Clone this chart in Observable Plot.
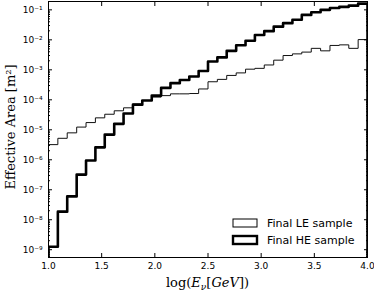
<!DOCTYPE html>
<html><head><meta charset="utf-8">
<script src="https://cdn.jsdelivr.net/npm/d3@7"></script>
<script src="https://cdn.jsdelivr.net/npm/@observablehq/plot@0.6"></script>
<style>body{margin:0;background:#fff;} #chart svg{display:block;}</style>
</head><body><div id="chart"></div>
<script>
// bin edges of log10(E/GeV)
const binEdges = [1.000,1.088,1.176,1.265,1.353,1.441,1.529,1.618,1.706,1.794,1.882,1.971,2.059,2.147,2.235,2.324,2.412,2.500,2.588,2.676,2.765,2.853,2.941,3.029,3.118,3.206,3.294,3.382,3.471,3.559,3.647,3.735,3.824,3.912,4.000];
// effective area [m^2] per bin, Final LE sample
const leValues = [3.2e-6,5.2e-6,7.9e-6,1.23e-5,1.74e-5,2.5e-5,3.3e-5,4.3e-5,5.4e-5,7.2e-5,9.5e-5,1.23e-4,1.38e-4,1.58e-4,1.58e-4,1.62e-4,2.3e-4,4.0e-4,4.8e-4,6.5e-4,7.9e-4,1.05e-3,1.12e-3,1.45e-3,2.1e-3,3.0e-3,3.4e-3,3.9e-3,5.2e-3,4.3e-3,6.5e-3,6.8e-3,5.2e-3,1.02e-2];
// effective area [m^2] per bin, Final HE sample
const heValues = [1.26e-9,1.86e-8,6.0e-8,3.2e-7,9.5e-7,2.6e-6,6.9e-6,1.58e-5,3.5e-5,6.9e-5,9.5e-5,1.38e-4,2.5e-4,3.6e-4,4.6e-4,6.0e-4,9.1e-4,1.9e-3,2.6e-3,4.3e-3,6.6e-3,9.3e-3,1.45e-2,1.95e-2,2.75e-2,3.6e-2,4.7e-2,6.8e-2,8.3e-2,0.100,0.115,0.126,0.138,0.162];
const xTicks = [1.0,1.5,2.0,2.5,3.0,3.5,4.0];
const yTicks = [1e-9,1e-8,1e-7,1e-6,1e-5,1e-4,1e-3,1e-2,1e-1];
const yTickLabels = ["10⁻⁹","10⁻⁸","10⁻⁷","10⁻⁶","10⁻⁵","10⁻⁴","10⁻³","10⁻²","10⁻¹"];
const seriesNames = ["Final LE sample","Final HE sample"];
const yDomain = [5.5e-10, 0.19];
const xDomain = [1, 4];

function stepPoints(vals) {
  const last = binEdges[binEdges.length - 1];
  const pts = [{x: binEdges[0], y: yDomain[0]}];
  vals.forEach((v, i) => pts.push({x: binEdges[i], y: v}));
  pts.push({x: last, y: vals[vals.length - 1]});
  pts.push({x: last, y: yDomain[0]});
  return pts;
}
const lePts = stepPoints(leValues);
const hePts = stepPoints(heValues);

const minorTicks = [];
for (let e = -10; e <= -1; e++) for (let m = 2; m <= 9; m++) {
  const v = m * Math.pow(10, e);
  if (v >= yDomain[0] && v <= yDomain[1]) minorTicks.push(v);
}
const blank = () => "";
const yFmt = d => yTickLabels[yTicks.indexOf(d)];

const plot = Plot.plot({
  width: 374, height: 291,
  marginLeft: 48, marginRight: 7, marginTop: 1, marginBottom: 34,
  style: {fontFamily: "DejaVu Sans", fontSize: "9px", color: "#000", background: "#fff", overflow: "visible"},
  x: {domain: xDomain},
  y: {type: "log", domain: yDomain},
  marks: [
    Plot.line(lePts, {x: "x", y: "y", curve: "step-after", stroke: "#111", strokeWidth: 1, clip: true}),
    Plot.line(hePts, {x: "x", y: "y", curve: "step-after", stroke: "#000", strokeWidth: 2.6, clip: true}),
    Plot.frame({stroke: "#000", strokeWidth: 1}),
    Plot.axisX(xTicks, {anchor: "bottom", tickSize: 0, tickPadding: 5, tickFormat: d => d.toFixed(1), label: null}),
    Plot.axisX(xTicks, {anchor: "bottom", tickSize: 4, dy: -4, tickFormat: blank, label: null}),
    Plot.axisX(xTicks, {anchor: "top", tickSize: 4, dy: 4, tickFormat: blank, label: null}),
    Plot.axisY(yTicks, {anchor: "left", tickSize: 0, tickPadding: 6, tickFormat: yFmt, label: null}),
    Plot.axisY(yTicks, {anchor: "left", tickSize: 4, dx: 4, tickFormat: blank, label: null}),
    Plot.axisY(yTicks, {anchor: "right", tickSize: 4, dx: -4, tickFormat: blank, label: null}),
    Plot.axisY(minorTicks, {anchor: "left", tickSize: 2, dx: 2, tickFormat: blank, label: null}),
    Plot.axisY(minorTicks, {anchor: "right", tickSize: 2, dx: -2, tickFormat: blank, label: null})
  ]
});
document.getElementById("chart").append(plot);

const svg = d3.select(plot);
const xs = plot.scale("x"), ys = plot.scale("y");
const cx = (xs.range[0] + xs.range[1]) / 2;
const cy = (ys.range[0] + ys.range[1]) / 2;

// x label
const xl = svg.append("text").attr("x", cx).attr("y", 287).attr("text-anchor", "middle")
  .attr("font-family", "DejaVu Serif").attr("font-size", 13).attr("fill", "#000");
xl.append("tspan").text("log(");
xl.append("tspan").attr("font-style", "italic").text("E");
xl.append("tspan").attr("font-style", "italic").attr("font-size", 9).attr("dy", 3).text("ν");
xl.append("tspan").attr("dy", -3).text("[");
xl.append("tspan").attr("font-style", "italic").text("GeV");
xl.append("tspan").text("])");

// y label
svg.append("text").attr("transform", `translate(15,${cy - 2}) rotate(-90)`).attr("text-anchor", "middle")
  .attr("font-family", "DejaVu Serif").attr("font-size", 13).attr("fill", "#000")
  .text("Effective Area [m²]");

// legend
const lg = svg.append("g");
[[seriesNames[0], 1], [seriesNames[1], 2.4]].forEach(([name, sw], i) => {
  const y0 = 219 + i * 17;
  lg.append("rect").attr("x", 233).attr("y", y0).attr("width", 24).attr("height", 8)
    .attr("fill", "none").attr("stroke", "#000").attr("stroke-width", sw);
  lg.append("text").attr("x", 267).attr("y", y0 + 8.3).attr("text-anchor", "start")
    .attr("font-family", "DejaVu Sans").attr("font-size", 11).attr("fill", "#000").text(name);
});
</script>
</body></html>
